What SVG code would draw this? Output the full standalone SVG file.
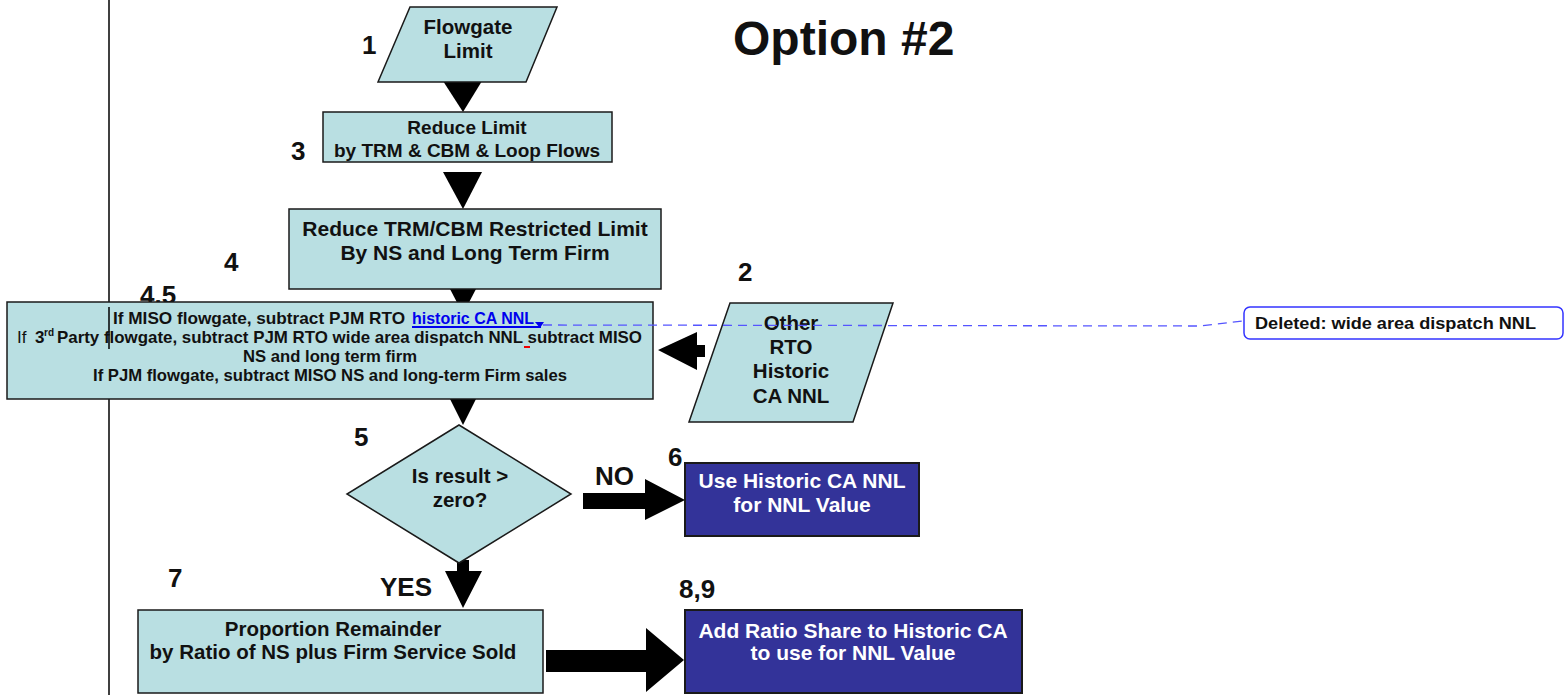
<svg xmlns="http://www.w3.org/2000/svg" width="1565" height="695" viewBox="0 0 1565 695">
<style>
text{font-family:"Liberation Sans",Arial,sans-serif;font-weight:bold;fill:#111}
.c{text-anchor:middle}
.lb{font-size:26px}
.f20{font-size:20.5px}
.f16{font-size:17px}
.w{fill:#fff}
.shape{fill:#b9dfe2;stroke:#1a1a1a;stroke-width:1.5}
.dark{fill:#333399;stroke:#1a1a1a;stroke-width:2}
.arr{fill:#000}
</style>
<rect width="1565" height="695" fill="#fff"/>
<line x1="109" y1="0" x2="109" y2="695" stroke="#000" stroke-width="1.5"/>

<g id="connectors">
<polygon class="arr" points="443,81 482,81 463,112"/>
<polygon class="arr" points="443,172 482,172 463,209"/>
<polygon class="arr" points="450,289 476,289 463,314"/>
<polygon class="arr" points="450,399 476,399 463,425"/>
<polygon class="arr" points="583,493 645,493 645,479 685,500 645,520 645,509 583,509"/>
<polygon class="arr" points="457,560 469,560 469,571 482,571 463,608 445,571 457,571"/>
<polygon class="arr" points="546,650 646,650 646,628 684,660 646,692 646,672 546,672"/>
<polygon class="arr" points="705,345 697,345 697,332 658,350 697,370 697,357 705,357"/>
</g>

<g id="labels">
<text class="lb" x="362" y="54">1</text>
<text class="lb" x="291" y="160">3</text>
<text class="lb" x="224" y="271">4</text>
<text class="lb" x="738" y="281">2</text>
<text class="lb" x="354" y="446">5</text>
<text class="lb" x="668" y="466">6</text>
<text class="lb" x="168" y="587">7</text>
<text class="lb" x="679" y="598">8,9</text>
<text class="lb" x="140" y="304">4.5</text>
<text class="lb" x="595" y="485">NO</text>
<text class="lb" x="380" y="596">YES</text>
<text x="733" y="55" style="font-size:48px">Option #2</text>
</g>

<g id="n1">
<polygon class="shape" points="410,7 557,7 526,82 378,82"/>
<text class="c f20" x="468" y="34">Flowgate</text>
<text class="c f20" x="468" y="58">Limit</text>
</g>

<g id="n3">
<rect class="shape" x="323" y="112" width="289" height="50"/>
<text class="c" x="467" y="134" style="font-size:19px">Reduce Limit</text>
<text class="c" x="467" y="157" style="font-size:19px">by TRM &amp; CBM &amp; Loop Flows</text>
</g>

<g id="n4">
<rect class="shape" x="289" y="209" width="372" height="80"/>
<text class="c" x="475" y="236" style="font-size:21px">Reduce TRM/CBM Restricted Limit</text>
<text class="c" x="475" y="260" style="font-size:21px">By NS and Long Term Firm</text>
</g>

<g id="n45">
<rect class="shape" x="7" y="302" width="646" height="97"/>
<line x1="109" y1="307" x2="109" y2="349" stroke="#000" stroke-width="1.5"/>
<text class="f16" x="113" y="324" textLength="292" lengthAdjust="spacingAndGlyphs">If MISO flowgate, subtract PJM RTO</text>
<text class="f16" x="412" y="324" textLength="122" lengthAdjust="spacingAndGlyphs" style="fill:#0000ee">historic CA NNL</text>
<line x1="412" y1="327" x2="541" y2="327" stroke="#0000ee" stroke-width="2"/>
<polygon points="535,322 544,322 540,328" fill="#0000ee"/>
<text class="f16" x="17" y="343" style="font-weight:normal">If</text>
<text class="f16" x="35" y="343">3</text>
<text x="44" y="336" style="font-size:10px">rd</text>
<text class="f16" x="57" y="343" textLength="585" lengthAdjust="spacingAndGlyphs">Party flowgate, subtract PJM RTO wide area dispatch NNL subtract MISO</text>
<line x1="524" y1="347" x2="530" y2="347" stroke="#e00" stroke-width="2"/>
<text class="f16" x="243" y="362" textLength="174" lengthAdjust="spacingAndGlyphs">NS and long term firm</text>
<text class="f16" x="93" y="381" textLength="474" lengthAdjust="spacingAndGlyphs">If PJM flowgate, subtract MISO NS and long-term Firm sales</text>
</g>

<g id="n2">
<polygon class="shape" points="730,303 893,303 853,422 689,422"/>
<text class="c f20" x="791" y="330">Other</text>
<text class="c f20" x="791" y="354">RTO</text>
<text class="c f20" x="791" y="378">Historic</text>
<text class="c f20" x="791" y="403">CA NNL</text>
</g>

<g id="n5">
<polygon class="shape" points="459,425 571,494 459,563 347,494"/>
<text class="c f20" x="460" y="483">Is result &gt;</text>
<text class="c f20" x="460" y="507">zero?</text>
</g>

<g id="n6">
<rect class="dark" x="685" y="463" width="234" height="73"/>
<text class="c w" x="802" y="488" style="font-size:21px">Use Historic CA NNL</text>
<text class="c w" x="802" y="512" style="font-size:21px">for NNL Value</text>
</g>

<g id="n7">
<rect class="shape" x="138" y="610" width="405" height="83"/>
<text class="c f20" x="333" y="636">Proportion Remainder</text>
<text class="c f20" x="333" y="659">by Ratio of NS plus Firm Service Sold</text>
</g>

<g id="n89">
<rect class="dark" x="685" y="610" width="337" height="83"/>
<text class="c w" x="853" y="638" style="font-size:21px">Add Ratio Share to Historic CA</text>
<text class="c w" x="853" y="660" style="font-size:21px">to use for NNL Value</text>
</g>

<g id="comment">
<path d="M543,325 L1200,326 L1243,321" fill="none" stroke="#5555ff" stroke-width="1.3" stroke-dasharray="9,6"/>
<rect x="1244" y="307" width="319" height="32" rx="6" fill="#fff" stroke="#3333ff" stroke-width="1.5"/>
<text x="1255" y="329" style="font-size:17px" textLength="281" lengthAdjust="spacingAndGlyphs">Deleted: wide area dispatch NNL</text>
</g>
</svg>
